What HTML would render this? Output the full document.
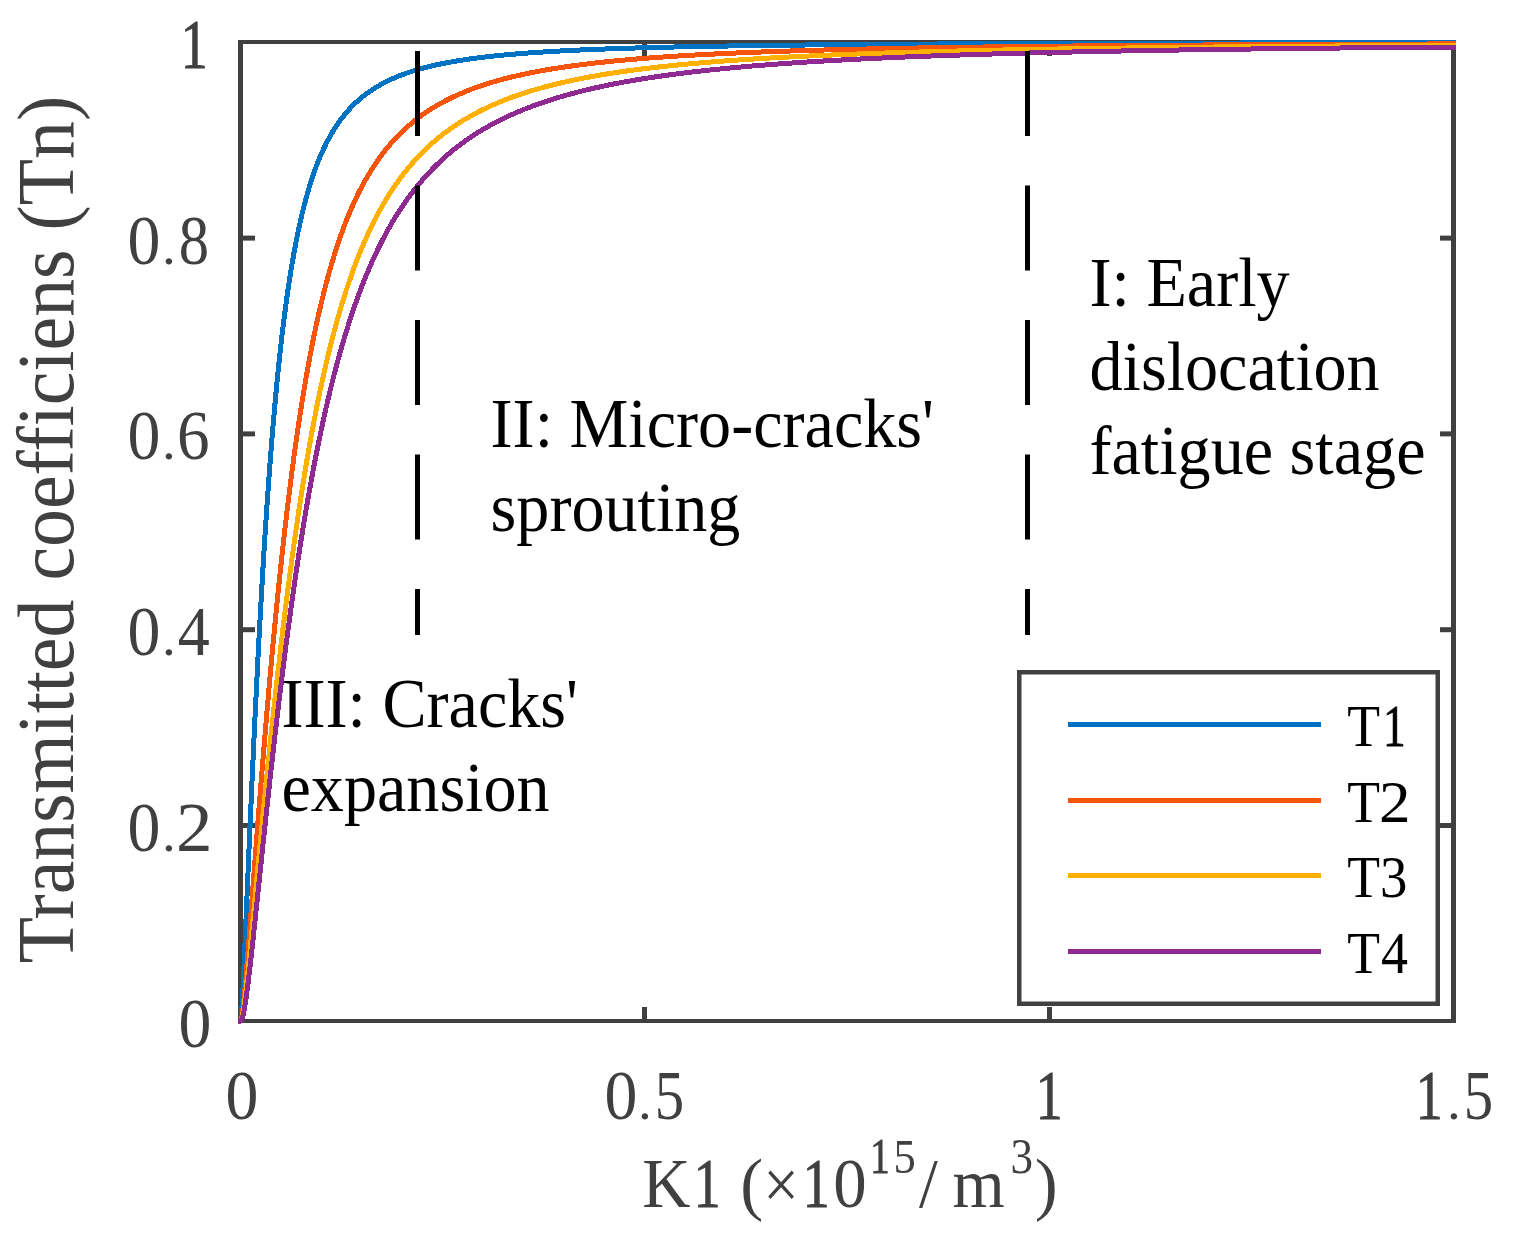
<!DOCTYPE html>
<html><head><meta charset="utf-8"><title>Transmitted coefficients vs K1</title>
<style>html,body{margin:0;padding:0;background:#fff;overflow:hidden;}svg{display:block;}</style></head>
<body>
<svg width="1513" height="1239" viewBox="0 0 1513 1239">
<rect width="1513" height="1239" fill="#fff"/>
<g stroke="#404040" stroke-width="5" fill="none"><line x1="644.5" y1="1023" x2="644.5" y2="1007"/><line x1="644.5" y1="40" x2="644.5" y2="56"/><line x1="1049.5" y1="1023" x2="1049.5" y2="1007"/><line x1="1049.5" y1="40" x2="1049.5" y2="56"/><line x1="238" y1="825.5" x2="255" y2="825.5"/><line x1="1456" y1="825.5" x2="1440" y2="825.5"/><line x1="238" y1="629.7" x2="255" y2="629.7"/><line x1="1456" y1="629.7" x2="1440" y2="629.7"/><line x1="238" y1="433.9" x2="255" y2="433.9"/><line x1="1456" y1="433.9" x2="1440" y2="433.9"/><line x1="238" y1="238.1" x2="255" y2="238.1"/><line x1="1456" y1="238.1" x2="1440" y2="238.1"/></g>
<g fill="#404040"><rect x="238" y="40" width="1218" height="4"/><rect x="238" y="1019" width="1218" height="4"/><rect x="238" y="40" width="5" height="983"/><rect x="1451" y="40" width="5" height="983"/></g>
<polyline points="240.50,1021.00 240.50,1021.00 240.50,1021.00 240.51,1021.00 240.51,1021.00 240.52,1021.00 240.53,1020.99 240.55,1020.98 240.56,1020.96 240.58,1020.94 240.61,1020.90 240.63,1020.85 240.66,1020.79 240.69,1020.70 240.72,1020.58 240.76,1020.44 240.80,1020.27 240.84,1020.05 240.89,1019.79 240.93,1019.48 240.99,1019.12 241.04,1018.70 241.10,1018.22 241.16,1017.66 241.23,1017.03 241.29,1016.32 241.37,1015.53 241.44,1014.64 241.52,1013.67 241.60,1012.59 241.69,1011.41 241.78,1010.13 241.87,1008.73 241.96,1007.23 242.06,1005.60 242.17,1003.86 242.27,1002.01 242.38,1000.03 242.50,997.92 242.61,995.70 242.73,993.35 242.86,990.87 242.99,988.27 243.12,985.55 243.26,982.70 243.40,979.73 243.54,976.63 243.69,973.42 243.84,970.08 243.99,966.63 244.15,963.05 244.31,959.36 244.48,955.56 244.65,951.64 244.82,947.61 245.00,943.47 245.18,939.22 245.37,934.87 245.56,930.41 245.75,925.85 245.95,921.18 246.15,916.42 246.36,911.56 246.57,906.60 246.78,901.55 247.00,896.41 247.22,891.17 247.45,885.85 247.68,880.43 247.92,874.93 248.15,869.35 248.40,863.68 248.64,857.93 248.89,852.10 249.15,846.20 249.41,840.21 249.67,834.15 249.94,828.02 250.21,821.82 250.49,815.55 250.77,809.21 251.05,802.80 251.34,796.33 251.63,789.80 251.93,783.21 252.23,776.56 252.54,769.86 252.85,763.10 253.16,756.29 253.48,749.43 253.80,742.53 254.13,735.59 254.46,728.60 254.80,721.57 255.14,714.51 255.48,707.41 255.83,700.28 256.19,693.13 256.55,685.94 256.91,678.74 257.27,671.51 257.65,664.27 258.02,657.01 258.40,649.74 258.79,642.47 259.18,635.18 259.57,627.89 259.97,620.60 260.37,613.32 260.78,606.03 261.19,598.76 261.60,591.49 262.02,584.24 262.45,577.01 262.88,569.79 263.31,562.60 263.75,555.43 264.19,548.28 264.64,541.17 265.10,534.08 265.55,527.03 266.01,520.02 266.48,513.04 266.95,506.11 267.43,499.21 267.91,492.37 268.39,485.57 268.88,478.82 269.37,472.12 269.87,465.47 270.38,458.88 270.88,452.34 271.40,445.86 271.91,439.44 272.44,433.08 272.96,426.79 273.49,420.55 274.03,414.38 274.57,408.28 275.12,402.25 275.67,396.28 276.22,390.38 276.78,384.55 277.35,378.79 277.91,373.10 278.49,367.48 279.07,361.93 279.65,356.46 280.24,351.05 280.83,345.73 281.43,340.47 282.03,335.29 282.64,330.18 283.25,325.14 283.87,320.18 284.49,315.29 285.12,310.47 285.75,305.73 286.39,301.06 287.03,296.46 287.67,291.94 288.33,287.48 288.98,283.10 289.64,278.79 290.31,274.55 290.98,270.38 291.65,266.28 292.33,262.24 293.02,258.28 293.71,254.38 294.41,250.55 295.11,246.79 295.81,243.09 296.52,239.46 297.24,235.89 297.96,232.38 298.68,228.94 299.41,225.56 300.14,222.24 300.88,218.98 301.63,215.78 302.38,212.64 303.13,209.55 303.89,206.53 304.66,203.56 305.43,200.64 306.20,197.78 306.98,194.97 307.77,192.22 308.56,189.51 309.35,186.86 310.15,184.26 310.95,181.71 311.76,179.20 312.58,176.75 313.40,174.34 314.22,171.98 315.05,169.66 315.89,167.38 316.73,165.16 317.57,162.97 318.42,160.82 319.28,158.72 320.14,156.66 321.01,154.64 321.88,152.65 322.75,150.71 323.63,148.80 324.52,146.93 325.41,145.10 326.31,143.30 327.21,141.54 328.12,139.81 329.03,138.11 329.94,136.45 330.87,134.82 331.79,133.22 332.73,131.65 333.66,130.11 334.61,128.60 335.56,127.13 336.51,125.68 337.47,124.25 338.43,122.86 339.40,121.49 340.37,120.15 341.35,118.83 342.34,117.54 343.33,116.28 344.32,115.04 345.32,113.82 346.33,112.63 347.34,111.45 348.35,110.31 349.37,109.18 350.40,108.07 351.43,106.99 352.47,105.92 353.51,104.88 354.56,103.86 355.61,102.85 356.67,101.87 357.73,100.90 358.80,99.95 359.87,99.02 360.95,98.11 362.04,97.21 363.12,96.33 364.22,95.47 365.32,94.62 366.43,93.79 367.54,92.97 368.65,92.17 369.77,91.38 370.90,90.61 372.03,89.85 373.17,89.11 374.31,88.38 375.46,87.66 376.61,86.96 377.77,86.27 378.94,85.59 380.11,84.93 381.28,84.27 382.46,83.63 383.65,83.00 384.84,82.38 386.04,81.77 387.24,81.17 388.44,80.59 389.66,80.01 390.88,79.45 392.10,78.89 393.33,78.34 394.56,77.81 395.80,77.28 397.05,76.76 398.30,76.25 399.55,75.75 400.82,75.26 402.08,74.78 403.35,74.31 404.63,73.84 405.92,73.38 407.20,72.93 408.50,72.49 409.80,72.05 411.10,71.63 412.41,71.21 413.73,70.79 415.05,70.39 416.38,69.99 417.71,69.60 419.05,69.21 420.39,68.83 421.74,68.46 423.09,68.09 424.45,67.73 425.82,67.38 427.19,67.03 428.57,66.69 429.95,66.35 431.34,66.02 432.73,65.69 434.13,65.37 435.53,65.05 436.94,64.74 438.36,64.44 439.78,64.14 441.20,63.84 442.63,63.55 444.07,63.27 445.51,62.98 446.96,62.71 448.42,62.43 449.88,62.17 451.34,61.90 452.81,61.64 454.29,61.39 455.77,61.13 457.26,60.89 458.75,60.64 460.25,60.40 461.75,60.17 463.26,59.93 464.78,59.70 466.30,59.48 467.83,59.26 469.36,59.04 470.90,58.82 472.44,58.61 473.99,58.40 475.54,58.20 477.10,57.99 478.67,57.80 480.24,57.60 481.82,57.41 483.40,57.22 484.99,57.03 486.58,56.84 488.18,56.66 489.79,56.48 491.40,56.30 493.02,56.13 494.64,55.96 496.27,55.79 497.90,55.62 499.54,55.46 501.19,55.30 502.84,55.14 504.49,54.98 506.16,54.83 507.82,54.68 509.50,54.53 511.18,54.38 512.86,54.23 514.55,54.09 516.25,53.95 517.95,53.81 519.66,53.67 521.37,53.53 523.09,53.40 524.82,53.27 526.55,53.14 528.29,53.01 530.03,52.88 531.78,52.76 533.53,52.64 535.29,52.51 537.05,52.40 538.82,52.28 540.60,52.16 542.38,52.05 544.17,51.93 545.97,51.82 547.77,51.71 549.57,51.60 551.38,51.50 553.20,51.39 555.02,51.29 556.85,51.18 558.69,51.08 560.53,50.98 562.37,50.88 564.22,50.79 566.08,50.69 567.94,50.60 569.81,50.50 571.69,50.41 573.57,50.32 575.46,50.23 577.35,50.14 579.25,50.05 581.15,49.97 583.06,49.88 584.98,49.80 586.90,49.72 588.82,49.63 590.76,49.55 592.70,49.47 594.64,49.40 596.59,49.32 598.55,49.24 600.51,49.17 602.48,49.09 604.45,49.02 606.43,48.94 608.42,48.87 610.41,48.80 612.41,48.73 614.41,48.66 616.42,48.59 618.44,48.53 620.46,48.46 622.48,48.39 624.52,48.33 626.56,48.26 628.60,48.20 630.65,48.14 632.71,48.08 634.77,48.02 636.84,47.96 638.91,47.90 640.99,47.84 643.08,47.78 645.17,47.72 647.27,47.67 649.37,47.61 651.48,47.55 653.60,47.50 655.72,47.45 657.84,47.39 659.98,47.34 662.12,47.29 664.26,47.24 666.41,47.18 668.57,47.13 670.73,47.08 672.90,47.04 675.08,46.99 677.26,46.94 679.44,46.89 681.64,46.85 683.84,46.80 686.04,46.75 688.25,46.71 690.47,46.66 692.69,46.62 694.92,46.58 697.15,46.53 699.39,46.49 701.64,46.45 703.89,46.41 706.15,46.37 708.42,46.32 710.69,46.28 712.96,46.25 715.25,46.21 717.53,46.17 719.83,46.13 722.13,46.09 724.44,46.05 726.75,46.02 729.07,45.98 731.39,45.94 733.72,45.91 736.06,45.87 738.40,45.84 740.75,45.80 743.10,45.77 745.46,45.73 747.83,45.70 750.20,45.67 752.58,45.63 754.97,45.60 757.36,45.57 759.75,45.54 762.16,45.51 764.57,45.48 766.98,45.44 769.40,45.41 771.83,45.38 774.26,45.35 776.70,45.33 779.15,45.30 781.60,45.27 784.06,45.24 786.52,45.21 788.99,45.18 791.47,45.16 793.95,45.13 796.44,45.10 798.93,45.07 801.43,45.05 803.94,45.02 806.45,45.00 808.97,44.97 811.49,44.94 814.02,44.92 816.56,44.90 819.10,44.87 821.65,44.85 824.20,44.82 826.77,44.80 829.33,44.77 831.91,44.75 834.49,44.73 837.07,44.71 839.66,44.68 842.26,44.66 844.87,44.64 847.48,44.62 850.09,44.60 852.71,44.57 855.34,44.55 857.98,44.53 860.62,44.51 863.27,44.49 865.92,44.47 868.58,44.45 871.24,44.43 873.91,44.41 876.59,44.39 879.28,44.37 881.97,44.35 884.66,44.33 887.37,44.31 890.07,44.30 892.79,44.28 895.51,44.26 898.24,44.24 900.97,44.22 903.71,44.21 906.46,44.19 909.21,44.17 911.97,44.15 914.73,44.14 917.50,44.12 920.28,44.10 923.06,44.09 925.85,44.07 928.64,44.05 931.45,44.04 934.25,44.02 937.07,44.01 939.89,43.99 942.71,43.97 945.55,43.96 948.38,43.94 951.23,43.93 954.08,43.91 956.94,43.90 959.80,43.88 962.67,43.87 965.55,43.86 968.43,43.84 971.32,43.83 974.21,43.81 977.11,43.80 980.02,43.79 982.94,43.77 985.86,43.76 988.78,43.75 991.71,43.73 994.65,43.72 997.60,43.71 1000.55,43.69 1003.51,43.68 1006.47,43.67 1009.44,43.66 1012.42,43.64 1015.40,43.63 1018.39,43.62 1021.38,43.61 1024.38,43.60 1027.39,43.58 1030.40,43.57 1033.42,43.56 1036.45,43.55 1039.48,43.54 1042.52,43.53 1045.57,43.52 1048.62,43.50 1051.68,43.49 1054.74,43.48 1057.81,43.47 1060.89,43.46 1063.97,43.45 1067.06,43.44 1070.16,43.43 1073.26,43.42 1076.37,43.41 1079.48,43.40 1082.60,43.39 1085.73,43.38 1088.86,43.37 1092.00,43.36 1095.15,43.35 1098.30,43.34 1101.46,43.33 1104.63,43.32 1107.80,43.31 1110.98,43.30 1114.16,43.29 1117.35,43.28 1120.55,43.28 1123.75,43.27 1126.96,43.26 1130.18,43.25 1133.40,43.24 1136.63,43.23 1139.86,43.22 1143.11,43.21 1146.35,43.21 1149.61,43.20 1152.87,43.19 1156.14,43.18 1159.41,43.17 1162.69,43.17 1165.97,43.16 1169.27,43.15 1172.57,43.14 1175.87,43.13 1179.18,43.13 1182.50,43.12 1185.83,43.11 1189.16,43.10 1192.49,43.10 1195.84,43.09 1199.19,43.08 1202.54,43.07 1205.91,43.07 1209.27,43.06 1212.65,43.05 1216.03,43.05 1219.42,43.04 1222.81,43.03 1226.22,43.02 1229.62,43.02 1233.04,43.01 1236.46,43.00 1239.88,43.00 1243.32,42.99 1246.76,42.98 1250.20,42.98 1253.66,42.97 1257.12,42.97 1260.58,42.96 1264.05,42.95 1267.53,42.95 1271.02,42.94 1274.51,42.93 1278.00,42.93 1281.51,42.92 1285.02,42.92 1288.54,42.91 1292.06,42.90 1295.59,42.90 1299.12,42.89 1302.67,42.89 1306.22,42.88 1309.77,42.88 1313.33,42.87 1316.90,42.86 1320.48,42.86 1324.06,42.85 1327.65,42.85 1331.24,42.84 1334.84,42.84 1338.45,42.83 1342.06,42.83 1345.68,42.82 1349.31,42.82 1352.94,42.81 1356.58,42.81 1360.23,42.80 1363.88,42.80 1367.54,42.79 1371.21,42.79 1374.88,42.78 1378.56,42.78 1382.24,42.77 1385.94,42.77 1389.63,42.76 1393.34,42.76 1397.05,42.75 1400.77,42.75 1404.49,42.74 1408.22,42.74 1411.96,42.73 1415.70,42.73 1419.45,42.72 1423.21,42.72 1426.97,42.72 1430.74,42.71 1434.52,42.71 1438.30,42.70 1442.09,42.70 1445.89,42.69 1449.69,42.69 1453.50,42.69" fill="none" stroke="#0072C4" stroke-width="5" stroke-linejoin="round" stroke-linecap="square" shape-rendering="crispEdges"/>
<polyline points="240.50,1021.00 240.50,1021.00 240.50,1021.00 240.51,1021.00 240.51,1021.00 240.52,1021.00 240.53,1021.00 240.55,1020.99 240.56,1020.99 240.58,1020.98 240.61,1020.97 240.63,1020.96 240.66,1020.94 240.69,1020.91 240.72,1020.87 240.76,1020.83 240.80,1020.77 240.84,1020.71 240.89,1020.63 240.93,1020.53 240.99,1020.41 241.04,1020.28 241.10,1020.12 241.16,1019.94 241.23,1019.73 241.29,1019.49 241.37,1019.22 241.44,1018.92 241.52,1018.58 241.60,1018.20 241.69,1017.78 241.78,1017.32 241.87,1016.82 241.96,1016.27 242.06,1015.67 242.17,1015.01 242.27,1014.30 242.38,1013.54 242.50,1012.72 242.61,1011.84 242.73,1010.90 242.86,1009.89 242.99,1008.82 243.12,1007.69 243.26,1006.49 243.40,1005.22 243.54,1003.88 243.69,1002.47 243.84,1000.99 243.99,999.44 244.15,997.81 244.31,996.11 244.48,994.34 244.65,992.50 244.82,990.58 245.00,988.59 245.18,986.52 245.37,984.38 245.56,982.17 245.75,979.88 245.95,977.52 246.15,975.09 246.36,972.59 246.57,970.01 246.78,967.36 247.00,964.64 247.22,961.86 247.45,959.00 247.68,956.07 247.92,953.08 248.15,950.02 248.40,946.89 248.64,943.69 248.89,940.44 249.15,937.11 249.41,933.73 249.67,930.28 249.94,926.77 250.21,923.19 250.49,919.56 250.77,915.87 251.05,912.12 251.34,908.31 251.63,904.45 251.93,900.52 252.23,896.55 252.54,892.51 252.85,888.43 253.16,884.29 253.48,880.09 253.80,875.85 254.13,871.55 254.46,867.21 254.80,862.81 255.14,858.37 255.48,853.88 255.83,849.34 256.19,844.75 256.55,840.12 256.91,835.44 257.27,830.72 257.65,825.95 258.02,821.14 258.40,816.30 258.79,811.41 259.18,806.48 259.57,801.51 259.97,796.50 260.37,791.46 260.78,786.37 261.19,781.26 261.60,776.11 262.02,770.92 262.45,765.71 262.88,760.46 263.31,755.18 263.75,749.88 264.19,744.54 264.64,739.18 265.10,733.79 265.55,728.38 266.01,722.94 266.48,717.48 266.95,712.00 267.43,706.50 267.91,700.98 268.39,695.44 268.88,689.89 269.37,684.32 269.87,678.74 270.38,673.14 270.88,667.53 271.40,661.92 271.91,656.29 272.44,650.66 272.96,645.02 273.49,639.37 274.03,633.72 274.57,628.07 275.12,622.42 275.67,616.77 276.22,611.12 276.78,605.47 277.35,599.82 277.91,594.19 278.49,588.55 279.07,582.93 279.65,577.32 280.24,571.71 280.83,566.12 281.43,560.54 282.03,554.98 282.64,549.43 283.25,543.89 283.87,538.38 284.49,532.88 285.12,527.40 285.75,521.95 286.39,516.52 287.03,511.11 287.67,505.72 288.33,500.36 288.98,495.03 289.64,489.72 290.31,484.44 290.98,479.19 291.65,473.97 292.33,468.79 293.02,463.63 293.71,458.51 294.41,453.42 295.11,448.36 295.81,443.34 296.52,438.35 297.24,433.41 297.96,428.49 298.68,423.62 299.41,418.78 300.14,413.99 300.88,409.23 301.63,404.51 302.38,399.83 303.13,395.20 303.89,390.60 304.66,386.05 305.43,381.53 306.20,377.06 306.98,372.64 307.77,368.25 308.56,363.91 309.35,359.61 310.15,355.36 310.95,351.15 311.76,346.98 312.58,342.86 313.40,338.78 314.22,334.75 315.05,330.76 315.89,326.81 316.73,322.91 317.57,319.05 318.42,315.24 319.28,311.47 320.14,307.75 321.01,304.07 321.88,300.43 322.75,296.84 323.63,293.29 324.52,289.79 325.41,286.33 326.31,282.91 327.21,279.53 328.12,276.20 329.03,272.91 329.94,269.66 330.87,266.46 331.79,263.29 332.73,260.17 333.66,257.09 334.61,254.05 335.56,251.05 336.51,248.09 337.47,245.18 338.43,242.30 339.40,239.46 340.37,236.66 341.35,233.90 342.34,231.17 343.33,228.49 344.32,225.84 345.32,223.23 346.33,220.66 347.34,218.12 348.35,215.62 349.37,213.15 350.40,210.72 351.43,208.33 352.47,205.97 353.51,203.64 354.56,201.35 355.61,199.09 356.67,196.87 357.73,194.67 358.80,192.51 359.87,190.38 360.95,188.29 362.04,186.22 363.12,184.18 364.22,182.18 365.32,180.20 366.43,178.26 367.54,176.34 368.65,174.45 369.77,172.59 370.90,170.76 372.03,168.95 373.17,167.17 374.31,165.42 375.46,163.70 376.61,162.00 377.77,160.33 378.94,158.68 380.11,157.06 381.28,155.46 382.46,153.88 383.65,152.33 384.84,150.81 386.04,149.30 387.24,147.82 388.44,146.36 389.66,144.93 390.88,143.52 392.10,142.12 393.33,140.75 394.56,139.40 395.80,138.07 397.05,136.76 398.30,135.47 399.55,134.20 400.82,132.95 402.08,131.72 403.35,130.51 404.63,129.31 405.92,128.13 407.20,126.98 408.50,125.83 409.80,124.71 411.10,123.60 412.41,122.51 413.73,121.44 415.05,120.38 416.38,119.34 417.71,118.32 419.05,117.31 420.39,116.31 421.74,115.33 423.09,114.37 424.45,113.42 425.82,112.48 427.19,111.56 428.57,110.65 429.95,109.76 431.34,108.88 432.73,108.01 434.13,107.15 435.53,106.31 436.94,105.48 438.36,104.66 439.78,103.86 441.20,103.06 442.63,102.28 444.07,101.51 445.51,100.76 446.96,100.01 448.42,99.27 449.88,98.55 451.34,97.83 452.81,97.13 454.29,96.43 455.77,95.75 457.26,95.08 458.75,94.41 460.25,93.76 461.75,93.12 463.26,92.48 464.78,91.85 466.30,91.24 467.83,90.63 469.36,90.03 470.90,89.44 472.44,88.86 473.99,88.29 475.54,87.72 477.10,87.16 478.67,86.61 480.24,86.07 481.82,85.54 483.40,85.01 484.99,84.50 486.58,83.98 488.18,83.48 489.79,82.98 491.40,82.50 493.02,82.01 494.64,81.54 496.27,81.07 497.90,80.61 499.54,80.15 501.19,79.70 502.84,79.26 504.49,78.82 506.16,78.39 507.82,77.96 509.50,77.54 511.18,77.13 512.86,76.72 514.55,76.32 516.25,75.92 517.95,75.53 519.66,75.15 521.37,74.77 523.09,74.39 524.82,74.02 526.55,73.66 528.29,73.30 530.03,72.94 531.78,72.59 533.53,72.25 535.29,71.91 537.05,71.57 538.82,71.24 540.60,70.91 542.38,70.59 544.17,70.27 545.97,69.95 547.77,69.64 549.57,69.34 551.38,69.04 553.20,68.74 555.02,68.44 556.85,68.15 558.69,67.87 560.53,67.58 562.37,67.31 564.22,67.03 566.08,66.76 567.94,66.49 569.81,66.23 571.69,65.96 573.57,65.71 575.46,65.45 577.35,65.20 579.25,64.95 581.15,64.71 583.06,64.47 584.98,64.23 586.90,63.99 588.82,63.76 590.76,63.53 592.70,63.30 594.64,63.08 596.59,62.86 598.55,62.64 600.51,62.43 602.48,62.21 604.45,62.00 606.43,61.80 608.42,61.59 610.41,61.39 612.41,61.19 614.41,60.99 616.42,60.80 618.44,60.61 620.46,60.42 622.48,60.23 624.52,60.04 626.56,59.86 628.60,59.68 630.65,59.50 632.71,59.32 634.77,59.15 636.84,58.98 638.91,58.81 640.99,58.64 643.08,58.47 645.17,58.31 647.27,58.15 649.37,57.99 651.48,57.83 653.60,57.67 655.72,57.52 657.84,57.37 659.98,57.22 662.12,57.07 664.26,56.92 666.41,56.78 668.57,56.63 670.73,56.49 672.90,56.35 675.08,56.21 677.26,56.07 679.44,55.94 681.64,55.80 683.84,55.67 686.04,55.54 688.25,55.41 690.47,55.28 692.69,55.16 694.92,55.03 697.15,54.91 699.39,54.79 701.64,54.67 703.89,54.55 706.15,54.43 708.42,54.31 710.69,54.20 712.96,54.09 715.25,53.97 717.53,53.86 719.83,53.75 722.13,53.64 724.44,53.54 726.75,53.43 729.07,53.32 731.39,53.22 733.72,53.12 736.06,53.02 738.40,52.92 740.75,52.82 743.10,52.72 745.46,52.62 747.83,52.52 750.20,52.43 752.58,52.34 754.97,52.24 757.36,52.15 759.75,52.06 762.16,51.97 764.57,51.88 766.98,51.79 769.40,51.71 771.83,51.62 774.26,51.53 776.70,51.45 779.15,51.37 781.60,51.28 784.06,51.20 786.52,51.12 788.99,51.04 791.47,50.96 793.95,50.89 796.44,50.81 798.93,50.73 801.43,50.66 803.94,50.58 806.45,50.51 808.97,50.43 811.49,50.36 814.02,50.29 816.56,50.22 819.10,50.15 821.65,50.08 824.20,50.01 826.77,49.94 829.33,49.87 831.91,49.81 834.49,49.74 837.07,49.68 839.66,49.61 842.26,49.55 844.87,49.48 847.48,49.42 850.09,49.36 852.71,49.30 855.34,49.24 857.98,49.18 860.62,49.12 863.27,49.06 865.92,49.00 868.58,48.94 871.24,48.89 873.91,48.83 876.59,48.77 879.28,48.72 881.97,48.66 884.66,48.61 887.37,48.55 890.07,48.50 892.79,48.45 895.51,48.40 898.24,48.34 900.97,48.29 903.71,48.24 906.46,48.19 909.21,48.14 911.97,48.09 914.73,48.04 917.50,48.00 920.28,47.95 923.06,47.90 925.85,47.85 928.64,47.81 931.45,47.76 934.25,47.72 937.07,47.67 939.89,47.63 942.71,47.58 945.55,47.54 948.38,47.50 951.23,47.45 954.08,47.41 956.94,47.37 959.80,47.33 962.67,47.28 965.55,47.24 968.43,47.20 971.32,47.16 974.21,47.12 977.11,47.08 980.02,47.04 982.94,47.01 985.86,46.97 988.78,46.93 991.71,46.89 994.65,46.85 997.60,46.82 1000.55,46.78 1003.51,46.74 1006.47,46.71 1009.44,46.67 1012.42,46.64 1015.40,46.60 1018.39,46.57 1021.38,46.53 1024.38,46.50 1027.39,46.47 1030.40,46.43 1033.42,46.40 1036.45,46.37 1039.48,46.34 1042.52,46.30 1045.57,46.27 1048.62,46.24 1051.68,46.21 1054.74,46.18 1057.81,46.15 1060.89,46.12 1063.97,46.09 1067.06,46.06 1070.16,46.03 1073.26,46.00 1076.37,45.97 1079.48,45.94 1082.60,45.91 1085.73,45.88 1088.86,45.85 1092.00,45.83 1095.15,45.80 1098.30,45.77 1101.46,45.75 1104.63,45.72 1107.80,45.69 1110.98,45.67 1114.16,45.64 1117.35,45.61 1120.55,45.59 1123.75,45.56 1126.96,45.54 1130.18,45.51 1133.40,45.49 1136.63,45.46 1139.86,45.44 1143.11,45.41 1146.35,45.39 1149.61,45.37 1152.87,45.34 1156.14,45.32 1159.41,45.30 1162.69,45.27 1165.97,45.25 1169.27,45.23 1172.57,45.21 1175.87,45.18 1179.18,45.16 1182.50,45.14 1185.83,45.12 1189.16,45.10 1192.49,45.08 1195.84,45.05 1199.19,45.03 1202.54,45.01 1205.91,44.99 1209.27,44.97 1212.65,44.95 1216.03,44.93 1219.42,44.91 1222.81,44.89 1226.22,44.87 1229.62,44.85 1233.04,44.83 1236.46,44.81 1239.88,44.80 1243.32,44.78 1246.76,44.76 1250.20,44.74 1253.66,44.72 1257.12,44.70 1260.58,44.69 1264.05,44.67 1267.53,44.65 1271.02,44.63 1274.51,44.61 1278.00,44.60 1281.51,44.58 1285.02,44.56 1288.54,44.55 1292.06,44.53 1295.59,44.51 1299.12,44.50 1302.67,44.48 1306.22,44.46 1309.77,44.45 1313.33,44.43 1316.90,44.42 1320.48,44.40 1324.06,44.39 1327.65,44.37 1331.24,44.35 1334.84,44.34 1338.45,44.32 1342.06,44.31 1345.68,44.29 1349.31,44.28 1352.94,44.27 1356.58,44.25 1360.23,44.24 1363.88,44.22 1367.54,44.21 1371.21,44.19 1374.88,44.18 1378.56,44.17 1382.24,44.15 1385.94,44.14 1389.63,44.13 1393.34,44.11 1397.05,44.10 1400.77,44.09 1404.49,44.07 1408.22,44.06 1411.96,44.05 1415.70,44.03 1419.45,44.02 1423.21,44.01 1426.97,44.00 1430.74,43.98 1434.52,43.97 1438.30,43.96 1442.09,43.95 1445.89,43.93 1449.69,43.92 1453.50,43.91" fill="none" stroke="#F8550C" stroke-width="5" stroke-linejoin="round" stroke-linecap="square" shape-rendering="crispEdges"/>
<polyline points="240.50,1021.00 240.50,1021.00 240.50,1021.00 240.51,1021.00 240.51,1021.00 240.52,1021.00 240.53,1021.00 240.55,1021.00 240.56,1020.99 240.58,1020.99 240.61,1020.98 240.63,1020.97 240.66,1020.96 240.69,1020.94 240.72,1020.92 240.76,1020.89 240.80,1020.86 240.84,1020.81 240.89,1020.76 240.93,1020.70 240.99,1020.62 241.04,1020.54 241.10,1020.44 241.16,1020.32 241.23,1020.18 241.29,1020.03 241.37,1019.85 241.44,1019.66 241.52,1019.43 241.60,1019.19 241.69,1018.91 241.78,1018.61 241.87,1018.27 241.96,1017.91 242.06,1017.50 242.17,1017.07 242.27,1016.59 242.38,1016.08 242.50,1015.52 242.61,1014.92 242.73,1014.28 242.86,1013.59 242.99,1012.86 243.12,1012.07 243.26,1011.24 243.40,1010.36 243.54,1009.42 243.69,1008.43 243.84,1007.39 243.99,1006.29 244.15,1005.14 244.31,1003.92 244.48,1002.66 244.65,1001.33 244.82,999.94 245.00,998.50 245.18,996.99 245.37,995.43 245.56,993.80 245.75,992.12 245.95,990.37 246.15,988.56 246.36,986.69 246.57,984.76 246.78,982.77 247.00,980.72 247.22,978.61 247.45,976.44 247.68,974.21 247.92,971.92 248.15,969.57 248.40,967.17 248.64,964.70 248.89,962.18 249.15,959.59 249.41,956.96 249.67,954.26 249.94,951.51 250.21,948.71 250.49,945.85 250.77,942.93 251.05,939.96 251.34,936.94 251.63,933.87 251.93,930.75 252.23,927.57 252.54,924.34 252.85,921.07 253.16,917.74 253.48,914.37 253.80,910.95 254.13,907.48 254.46,903.96 254.80,900.40 255.14,896.79 255.48,893.14 255.83,889.44 256.19,885.70 256.55,881.92 256.91,878.09 257.27,874.22 257.65,870.31 258.02,866.36 258.40,862.37 258.79,858.34 259.18,854.27 259.57,850.16 259.97,846.01 260.37,841.83 260.78,837.61 261.19,833.35 261.60,829.06 262.02,824.73 262.45,820.37 262.88,815.98 263.31,811.55 263.75,807.09 264.19,802.60 264.64,798.08 265.10,793.53 265.55,788.95 266.01,784.34 266.48,779.70 266.95,775.04 267.43,770.35 267.91,765.63 268.39,760.89 268.88,756.13 269.37,751.34 269.87,746.53 270.38,741.70 270.88,736.84 271.40,731.97 271.91,727.08 272.44,722.17 272.96,717.24 273.49,712.30 274.03,707.34 274.57,702.37 275.12,697.38 275.67,692.38 276.22,687.37 276.78,682.35 277.35,677.31 277.91,672.27 278.49,667.22 279.07,662.16 279.65,657.10 280.24,652.03 280.83,646.95 281.43,641.88 282.03,636.80 282.64,631.72 283.25,626.63 283.87,621.55 284.49,616.47 285.12,611.39 285.75,606.32 286.39,601.25 287.03,596.18 287.67,591.12 288.33,586.07 288.98,581.02 289.64,575.99 290.31,570.96 290.98,565.94 291.65,560.94 292.33,555.95 293.02,550.97 293.71,546.00 294.41,541.05 295.11,536.11 295.81,531.19 296.52,526.29 297.24,521.41 297.96,516.54 298.68,511.70 299.41,506.87 300.14,502.07 300.88,497.29 301.63,492.52 302.38,487.79 303.13,483.07 303.89,478.39 304.66,473.72 305.43,469.08 306.20,464.47 306.98,459.89 307.77,455.33 308.56,450.80 309.35,446.30 310.15,441.82 310.95,437.38 311.76,432.97 312.58,428.58 313.40,424.23 314.22,419.91 315.05,415.62 315.89,411.36 316.73,407.13 317.57,402.94 318.42,398.78 319.28,394.65 320.14,390.56 321.01,386.50 321.88,382.47 322.75,378.48 323.63,374.52 324.52,370.60 325.41,366.71 326.31,362.86 327.21,359.04 328.12,355.25 329.03,351.51 329.94,347.79 330.87,344.11 331.79,340.47 332.73,336.87 333.66,333.29 334.61,329.76 335.56,326.26 336.51,322.79 337.47,319.37 338.43,315.97 339.40,312.61 340.37,309.29 341.35,306.00 342.34,302.75 343.33,299.53 344.32,296.35 345.32,293.20 346.33,290.09 347.34,287.01 348.35,283.97 349.37,280.96 350.40,277.99 351.43,275.05 352.47,272.14 353.51,269.27 354.56,266.43 355.61,263.62 356.67,260.85 357.73,258.11 358.80,255.40 359.87,252.72 360.95,250.08 362.04,247.47 363.12,244.89 364.22,242.34 365.32,239.82 366.43,237.33 367.54,234.88 368.65,232.45 369.77,230.06 370.90,227.69 372.03,225.36 373.17,223.05 374.31,220.78 375.46,218.53 376.61,216.31 377.77,214.12 378.94,211.96 380.11,209.82 381.28,207.71 382.46,205.63 383.65,203.58 384.84,201.55 386.04,199.55 387.24,197.58 388.44,195.63 389.66,193.70 390.88,191.81 392.10,189.93 393.33,188.08 394.56,186.26 395.80,184.46 397.05,182.68 398.30,180.93 399.55,179.20 400.82,177.49 402.08,175.81 403.35,174.15 404.63,172.51 405.92,170.89 407.20,169.30 408.50,167.72 409.80,166.17 411.10,164.63 412.41,163.12 413.73,161.63 415.05,160.16 416.38,158.71 417.71,157.27 419.05,155.86 420.39,154.47 421.74,153.09 423.09,151.73 424.45,150.40 425.82,149.08 427.19,147.77 428.57,146.49 429.95,145.22 431.34,143.97 432.73,142.74 434.13,141.52 435.53,140.32 436.94,139.13 438.36,137.96 439.78,136.81 441.20,135.67 442.63,134.55 444.07,133.45 445.51,132.35 446.96,131.28 448.42,130.21 449.88,129.17 451.34,128.13 452.81,127.11 454.29,126.10 455.77,125.11 457.26,124.13 458.75,123.16 460.25,122.21 461.75,121.27 463.26,120.34 464.78,119.43 466.30,118.52 467.83,117.63 469.36,116.75 470.90,115.88 472.44,115.03 473.99,114.18 475.54,113.35 477.10,112.53 478.67,111.71 480.24,110.91 481.82,110.12 483.40,109.34 484.99,108.57 486.58,107.82 488.18,107.07 489.79,106.33 491.40,105.60 493.02,104.88 494.64,104.17 496.27,103.47 497.90,102.77 499.54,102.09 501.19,101.42 502.84,100.75 504.49,100.10 506.16,99.45 507.82,98.81 509.50,98.18 511.18,97.55 512.86,96.94 514.55,96.33 516.25,95.73 517.95,95.14 519.66,94.56 521.37,93.98 523.09,93.41 524.82,92.85 526.55,92.30 528.29,91.75 530.03,91.21 531.78,90.68 533.53,90.15 535.29,89.63 537.05,89.12 538.82,88.61 540.60,88.11 542.38,87.62 544.17,87.13 545.97,86.65 547.77,86.18 549.57,85.71 551.38,85.24 553.20,84.79 555.02,84.33 556.85,83.89 558.69,83.45 560.53,83.01 562.37,82.58 564.22,82.16 566.08,81.74 567.94,81.33 569.81,80.92 571.69,80.51 573.57,80.12 575.46,79.72 577.35,79.33 579.25,78.95 581.15,78.57 583.06,78.20 584.98,77.83 586.90,77.46 588.82,77.10 590.76,76.74 592.70,76.39 594.64,76.04 596.59,75.70 598.55,75.36 600.51,75.02 602.48,74.69 604.45,74.36 606.43,74.04 608.42,73.72 610.41,73.40 612.41,73.09 614.41,72.78 616.42,72.48 618.44,72.18 620.46,71.88 622.48,71.59 624.52,71.29 626.56,71.01 628.60,70.72 630.65,70.44 632.71,70.17 634.77,69.89 636.84,69.62 638.91,69.35 640.99,69.09 643.08,68.83 645.17,68.57 647.27,68.31 649.37,68.06 651.48,67.81 653.60,67.57 655.72,67.32 657.84,67.08 659.98,66.84 662.12,66.61 664.26,66.38 666.41,66.15 668.57,65.92 670.73,65.69 672.90,65.47 675.08,65.25 677.26,65.03 679.44,64.82 681.64,64.61 683.84,64.40 686.04,64.19 688.25,63.98 690.47,63.78 692.69,63.58 694.92,63.38 697.15,63.18 699.39,62.99 701.64,62.80 703.89,62.61 706.15,62.42 708.42,62.24 710.69,62.05 712.96,61.87 715.25,61.69 717.53,61.51 719.83,61.34 722.13,61.16 724.44,60.99 726.75,60.82 729.07,60.65 731.39,60.49 733.72,60.32 736.06,60.16 738.40,60.00 740.75,59.84 743.10,59.68 745.46,59.53 747.83,59.37 750.20,59.22 752.58,59.07 754.97,58.92 757.36,58.77 759.75,58.63 762.16,58.48 764.57,58.34 766.98,58.20 769.40,58.06 771.83,57.92 774.26,57.78 776.70,57.64 779.15,57.51 781.60,57.38 784.06,57.25 786.52,57.12 788.99,56.99 791.47,56.86 793.95,56.73 796.44,56.61 798.93,56.48 801.43,56.36 803.94,56.24 806.45,56.12 808.97,56.00 811.49,55.89 814.02,55.77 816.56,55.65 819.10,55.54 821.65,55.43 824.20,55.32 826.77,55.21 829.33,55.10 831.91,54.99 834.49,54.88 837.07,54.78 839.66,54.67 842.26,54.57 844.87,54.46 847.48,54.36 850.09,54.26 852.71,54.16 855.34,54.06 857.98,53.97 860.62,53.87 863.27,53.77 865.92,53.68 868.58,53.58 871.24,53.49 873.91,53.40 876.59,53.31 879.28,53.22 881.97,53.13 884.66,53.04 887.37,52.95 890.07,52.86 892.79,52.78 895.51,52.69 898.24,52.61 900.97,52.53 903.71,52.44 906.46,52.36 909.21,52.28 911.97,52.20 914.73,52.12 917.50,52.04 920.28,51.96 923.06,51.89 925.85,51.81 928.64,51.73 931.45,51.66 934.25,51.58 937.07,51.51 939.89,51.44 942.71,51.36 945.55,51.29 948.38,51.22 951.23,51.15 954.08,51.08 956.94,51.01 959.80,50.94 962.67,50.88 965.55,50.81 968.43,50.74 971.32,50.68 974.21,50.61 977.11,50.55 980.02,50.48 982.94,50.42 985.86,50.36 988.78,50.29 991.71,50.23 994.65,50.17 997.60,50.11 1000.55,50.05 1003.51,49.99 1006.47,49.93 1009.44,49.87 1012.42,49.81 1015.40,49.76 1018.39,49.70 1021.38,49.64 1024.38,49.59 1027.39,49.53 1030.40,49.48 1033.42,49.42 1036.45,49.37 1039.48,49.32 1042.52,49.26 1045.57,49.21 1048.62,49.16 1051.68,49.11 1054.74,49.06 1057.81,49.00 1060.89,48.95 1063.97,48.90 1067.06,48.86 1070.16,48.81 1073.26,48.76 1076.37,48.71 1079.48,48.66 1082.60,48.61 1085.73,48.57 1088.86,48.52 1092.00,48.48 1095.15,48.43 1098.30,48.38 1101.46,48.34 1104.63,48.30 1107.80,48.25 1110.98,48.21 1114.16,48.16 1117.35,48.12 1120.55,48.08 1123.75,48.04 1126.96,47.99 1130.18,47.95 1133.40,47.91 1136.63,47.87 1139.86,47.83 1143.11,47.79 1146.35,47.75 1149.61,47.71 1152.87,47.67 1156.14,47.63 1159.41,47.60 1162.69,47.56 1165.97,47.52 1169.27,47.48 1172.57,47.44 1175.87,47.41 1179.18,47.37 1182.50,47.34 1185.83,47.30 1189.16,47.26 1192.49,47.23 1195.84,47.19 1199.19,47.16 1202.54,47.12 1205.91,47.09 1209.27,47.06 1212.65,47.02 1216.03,46.99 1219.42,46.96 1222.81,46.92 1226.22,46.89 1229.62,46.86 1233.04,46.83 1236.46,46.79 1239.88,46.76 1243.32,46.73 1246.76,46.70 1250.20,46.67 1253.66,46.64 1257.12,46.61 1260.58,46.58 1264.05,46.55 1267.53,46.52 1271.02,46.49 1274.51,46.46 1278.00,46.43 1281.51,46.40 1285.02,46.38 1288.54,46.35 1292.06,46.32 1295.59,46.29 1299.12,46.26 1302.67,46.24 1306.22,46.21 1309.77,46.18 1313.33,46.16 1316.90,46.13 1320.48,46.10 1324.06,46.08 1327.65,46.05 1331.24,46.03 1334.84,46.00 1338.45,45.98 1342.06,45.95 1345.68,45.93 1349.31,45.90 1352.94,45.88 1356.58,45.85 1360.23,45.83 1363.88,45.80 1367.54,45.78 1371.21,45.76 1374.88,45.73 1378.56,45.71 1382.24,45.69 1385.94,45.66 1389.63,45.64 1393.34,45.62 1397.05,45.60 1400.77,45.57 1404.49,45.55 1408.22,45.53 1411.96,45.51 1415.70,45.49 1419.45,45.47 1423.21,45.45 1426.97,45.42 1430.74,45.40 1434.52,45.38 1438.30,45.36 1442.09,45.34 1445.89,45.32 1449.69,45.30 1453.50,45.28" fill="none" stroke="#FFB000" stroke-width="5" stroke-linejoin="round" stroke-linecap="square" shape-rendering="crispEdges"/>
<polyline points="240.50,1021.00 240.50,1021.00 240.50,1021.00 240.51,1021.00 240.51,1021.00 240.52,1021.00 240.53,1021.00 240.55,1021.00 240.56,1021.00 240.58,1020.99 240.61,1020.99 240.63,1020.98 240.66,1020.97 240.69,1020.96 240.72,1020.95 240.76,1020.93 240.80,1020.91 240.84,1020.88 240.89,1020.85 240.93,1020.81 240.99,1020.76 241.04,1020.71 241.10,1020.64 241.16,1020.56 241.23,1020.48 241.29,1020.38 241.37,1020.26 241.44,1020.13 241.52,1019.99 241.60,1019.83 241.69,1019.65 241.78,1019.44 241.87,1019.22 241.96,1018.98 242.06,1018.71 242.17,1018.41 242.27,1018.09 242.38,1017.74 242.50,1017.36 242.61,1016.95 242.73,1016.51 242.86,1016.03 242.99,1015.52 243.12,1014.97 243.26,1014.39 243.40,1013.76 243.54,1013.10 243.69,1012.39 243.84,1011.64 243.99,1010.85 244.15,1010.01 244.31,1009.12 244.48,1008.19 244.65,1007.21 244.82,1006.18 245.00,1005.10 245.18,1003.97 245.37,1002.78 245.56,1001.55 245.75,1000.26 245.95,998.91 246.15,997.52 246.36,996.06 246.57,994.55 246.78,992.99 247.00,991.37 247.22,989.69 247.45,987.95 247.68,986.16 247.92,984.31 248.15,982.40 248.40,980.43 248.64,978.41 248.89,976.33 249.15,974.19 249.41,971.99 249.67,969.73 249.94,967.42 250.21,965.05 250.49,962.62 250.77,960.14 251.05,957.59 251.34,955.00 251.63,952.35 251.93,949.64 252.23,946.88 252.54,944.06 252.85,941.19 253.16,938.26 253.48,935.29 253.80,932.26 254.13,929.18 254.46,926.05 254.80,922.87 255.14,919.64 255.48,916.35 255.83,913.03 256.19,909.65 256.55,906.22 256.91,902.75 257.27,899.24 257.65,895.68 258.02,892.07 258.40,888.42 258.79,884.73 259.18,880.99 259.57,877.22 259.97,873.40 260.37,869.54 260.78,865.65 261.19,861.71 261.60,857.74 262.02,853.73 262.45,849.68 262.88,845.60 263.31,841.48 263.75,837.33 264.19,833.15 264.64,828.93 265.10,824.68 265.55,820.40 266.01,816.09 266.48,811.75 266.95,807.38 267.43,802.98 267.91,798.55 268.39,794.10 268.88,789.62 269.37,785.12 269.87,780.59 270.38,776.04 270.88,771.47 271.40,766.88 271.91,762.26 272.44,757.62 272.96,752.97 273.49,748.29 274.03,743.60 274.57,738.89 275.12,734.17 275.67,729.43 276.22,724.67 276.78,719.90 277.35,715.12 277.91,710.33 278.49,705.52 279.07,700.71 279.65,695.89 280.24,691.05 280.83,686.21 281.43,681.36 282.03,676.51 282.64,671.65 283.25,666.79 283.87,661.92 284.49,657.05 285.12,652.18 285.75,647.31 286.39,642.43 287.03,637.56 287.67,632.69 288.33,627.82 288.98,622.96 289.64,618.10 290.31,613.24 290.98,608.39 291.65,603.54 292.33,598.71 293.02,593.88 293.71,589.05 294.41,584.24 295.11,579.44 295.81,574.65 296.52,569.87 297.24,565.10 297.96,560.35 298.68,555.61 299.41,550.89 300.14,546.18 300.88,541.48 301.63,536.81 302.38,532.14 303.13,527.50 303.89,522.88 304.66,518.27 305.43,513.69 306.20,509.12 306.98,504.58 307.77,500.06 308.56,495.56 309.35,491.08 310.15,486.62 310.95,482.19 311.76,477.78 312.58,473.40 313.40,469.04 314.22,464.71 315.05,460.40 315.89,456.12 316.73,451.87 317.57,447.64 318.42,443.44 319.28,439.27 320.14,435.12 321.01,431.01 321.88,426.92 322.75,422.86 323.63,418.83 324.52,414.83 325.41,410.86 326.31,406.92 327.21,403.01 328.12,399.13 329.03,395.28 329.94,391.46 330.87,387.67 331.79,383.92 332.73,380.19 333.66,376.50 334.61,372.83 335.56,369.20 336.51,365.60 337.47,362.03 338.43,358.50 339.40,354.99 340.37,351.52 341.35,348.08 342.34,344.67 343.33,341.29 344.32,337.94 345.32,334.63 346.33,331.34 347.34,328.09 348.35,324.87 349.37,321.68 350.40,318.53 351.43,315.40 352.47,312.31 353.51,309.25 354.56,306.21 355.61,303.21 356.67,300.24 357.73,297.31 358.80,294.40 359.87,291.52 360.95,288.67 362.04,285.86 363.12,283.07 364.22,280.31 365.32,277.59 366.43,274.89 367.54,272.22 368.65,269.58 369.77,266.97 370.90,264.39 372.03,261.84 373.17,259.32 374.31,256.82 375.46,254.35 376.61,251.91 377.77,249.50 378.94,247.12 380.11,244.76 381.28,242.43 382.46,240.13 383.65,237.85 384.84,235.60 386.04,233.38 387.24,231.18 388.44,229.01 389.66,226.86 390.88,224.74 392.10,222.64 393.33,220.57 394.56,218.53 395.80,216.50 397.05,214.50 398.30,212.53 399.55,210.58 400.82,208.65 402.08,206.75 403.35,204.86 404.63,203.00 405.92,201.17 407.20,199.35 408.50,197.56 409.80,195.79 411.10,194.04 412.41,192.31 413.73,190.60 415.05,188.92 416.38,187.25 417.71,185.61 419.05,183.98 420.39,182.38 421.74,180.79 423.09,179.23 424.45,177.68 425.82,176.15 427.19,174.64 428.57,173.15 429.95,171.68 431.34,170.23 432.73,168.79 434.13,167.37 435.53,165.97 436.94,164.59 438.36,163.22 439.78,161.87 441.20,160.54 442.63,159.22 444.07,157.92 445.51,156.64 446.96,155.37 448.42,154.12 449.88,152.88 451.34,151.66 452.81,150.45 454.29,149.26 455.77,148.09 457.26,146.92 458.75,145.78 460.25,144.64 461.75,143.52 463.26,142.42 464.78,141.32 466.30,140.25 467.83,139.18 469.36,138.13 470.90,137.09 472.44,136.06 473.99,135.05 475.54,134.05 477.10,133.06 478.67,132.08 480.24,131.12 481.82,130.17 483.40,129.22 484.99,128.29 486.58,127.38 488.18,126.47 489.79,125.57 491.40,124.69 493.02,123.82 494.64,122.95 496.27,122.10 497.90,121.26 499.54,120.43 501.19,119.60 502.84,118.79 504.49,117.99 506.16,117.20 507.82,116.41 509.50,115.64 511.18,114.88 512.86,114.12 514.55,113.38 516.25,112.64 517.95,111.91 519.66,111.20 521.37,110.49 523.09,109.78 524.82,109.09 526.55,108.41 528.29,107.73 530.03,107.06 531.78,106.40 533.53,105.75 535.29,105.10 537.05,104.47 538.82,103.84 540.60,103.22 542.38,102.60 544.17,101.99 545.97,101.39 547.77,100.80 549.57,100.21 551.38,99.63 553.20,99.06 555.02,98.50 556.85,97.94 558.69,97.39 560.53,96.84 562.37,96.30 564.22,95.77 566.08,95.24 567.94,94.72 569.81,94.20 571.69,93.70 573.57,93.19 575.46,92.70 577.35,92.21 579.25,91.72 581.15,91.24 583.06,90.77 584.98,90.30 586.90,89.83 588.82,89.37 590.76,88.92 592.70,88.47 594.64,88.03 596.59,87.59 598.55,87.16 600.51,86.73 602.48,86.31 604.45,85.89 606.43,85.48 608.42,85.07 610.41,84.67 612.41,84.27 614.41,83.87 616.42,83.48 618.44,83.09 620.46,82.71 622.48,82.33 624.52,81.96 626.56,81.59 628.60,81.23 630.65,80.87 632.71,80.51 634.77,80.16 636.84,79.81 638.91,79.46 640.99,79.12 643.08,78.78 645.17,78.45 647.27,78.12 649.37,77.79 651.48,77.47 653.60,77.15 655.72,76.83 657.84,76.52 659.98,76.21 662.12,75.90 664.26,75.60 666.41,75.30 668.57,75.01 670.73,74.71 672.90,74.42 675.08,74.14 677.26,73.85 679.44,73.57 681.64,73.29 683.84,73.02 686.04,72.75 688.25,72.48 690.47,72.21 692.69,71.95 694.92,71.69 697.15,71.43 699.39,71.18 701.64,70.93 703.89,70.68 706.15,70.43 708.42,70.18 710.69,69.94 712.96,69.70 715.25,69.47 717.53,69.23 719.83,69.00 722.13,68.77 724.44,68.54 726.75,68.32 729.07,68.10 731.39,67.88 733.72,67.66 736.06,67.44 738.40,67.23 740.75,67.02 743.10,66.81 745.46,66.60 747.83,66.40 750.20,66.20 752.58,65.99 754.97,65.80 757.36,65.60 759.75,65.40 762.16,65.21 764.57,65.02 766.98,64.83 769.40,64.65 771.83,64.46 774.26,64.28 776.70,64.10 779.15,63.92 781.60,63.74 784.06,63.56 786.52,63.39 788.99,63.22 791.47,63.04 793.95,62.88 796.44,62.71 798.93,62.54 801.43,62.38 803.94,62.22 806.45,62.05 808.97,61.89 811.49,61.74 814.02,61.58 816.56,61.43 819.10,61.27 821.65,61.12 824.20,60.97 826.77,60.82 829.33,60.67 831.91,60.53 834.49,60.38 837.07,60.24 839.66,60.10 842.26,59.96 844.87,59.82 847.48,59.68 850.09,59.54 852.71,59.41 855.34,59.27 857.98,59.14 860.62,59.01 863.27,58.88 865.92,58.75 868.58,58.62 871.24,58.50 873.91,58.37 876.59,58.25 879.28,58.12 881.97,58.00 884.66,57.88 887.37,57.76 890.07,57.64 892.79,57.53 895.51,57.41 898.24,57.29 900.97,57.18 903.71,57.07 906.46,56.95 909.21,56.84 911.97,56.73 914.73,56.62 917.50,56.52 920.28,56.41 923.06,56.30 925.85,56.20 928.64,56.09 931.45,55.99 934.25,55.89 937.07,55.79 939.89,55.68 942.71,55.59 945.55,55.49 948.38,55.39 951.23,55.29 954.08,55.20 956.94,55.10 959.80,55.01 962.67,54.91 965.55,54.82 968.43,54.73 971.32,54.64 974.21,54.55 977.11,54.46 980.02,54.37 982.94,54.28 985.86,54.19 988.78,54.11 991.71,54.02 994.65,53.94 997.60,53.85 1000.55,53.77 1003.51,53.69 1006.47,53.60 1009.44,53.52 1012.42,53.44 1015.40,53.36 1018.39,53.28 1021.38,53.20 1024.38,53.13 1027.39,53.05 1030.40,52.97 1033.42,52.90 1036.45,52.82 1039.48,52.75 1042.52,52.67 1045.57,52.60 1048.62,52.53 1051.68,52.46 1054.74,52.38 1057.81,52.31 1060.89,52.24 1063.97,52.17 1067.06,52.10 1070.16,52.04 1073.26,51.97 1076.37,51.90 1079.48,51.83 1082.60,51.77 1085.73,51.70 1088.86,51.64 1092.00,51.57 1095.15,51.51 1098.30,51.44 1101.46,51.38 1104.63,51.32 1107.80,51.26 1110.98,51.20 1114.16,51.13 1117.35,51.07 1120.55,51.01 1123.75,50.95 1126.96,50.90 1130.18,50.84 1133.40,50.78 1136.63,50.72 1139.86,50.66 1143.11,50.61 1146.35,50.55 1149.61,50.50 1152.87,50.44 1156.14,50.39 1159.41,50.33 1162.69,50.28 1165.97,50.22 1169.27,50.17 1172.57,50.12 1175.87,50.07 1179.18,50.01 1182.50,49.96 1185.83,49.91 1189.16,49.86 1192.49,49.81 1195.84,49.76 1199.19,49.71 1202.54,49.66 1205.91,49.61 1209.27,49.57 1212.65,49.52 1216.03,49.47 1219.42,49.42 1222.81,49.38 1226.22,49.33 1229.62,49.28 1233.04,49.24 1236.46,49.19 1239.88,49.15 1243.32,49.10 1246.76,49.06 1250.20,49.02 1253.66,48.97 1257.12,48.93 1260.58,48.89 1264.05,48.84 1267.53,48.80 1271.02,48.76 1274.51,48.72 1278.00,48.68 1281.51,48.64 1285.02,48.59 1288.54,48.55 1292.06,48.51 1295.59,48.47 1299.12,48.44 1302.67,48.40 1306.22,48.36 1309.77,48.32 1313.33,48.28 1316.90,48.24 1320.48,48.20 1324.06,48.17 1327.65,48.13 1331.24,48.09 1334.84,48.06 1338.45,48.02 1342.06,47.98 1345.68,47.95 1349.31,47.91 1352.94,47.88 1356.58,47.84 1360.23,47.81 1363.88,47.77 1367.54,47.74 1371.21,47.71 1374.88,47.67 1378.56,47.64 1382.24,47.61 1385.94,47.57 1389.63,47.54 1393.34,47.51 1397.05,47.47 1400.77,47.44 1404.49,47.41 1408.22,47.38 1411.96,47.35 1415.70,47.32 1419.45,47.29 1423.21,47.26 1426.97,47.22 1430.74,47.19 1434.52,47.16 1438.30,47.13 1442.09,47.11 1445.89,47.08 1449.69,47.05 1453.50,47.02" fill="none" stroke="#8E2A92" stroke-width="5" stroke-linejoin="round" stroke-linecap="square" shape-rendering="crispEdges"/>
<line x1="417.5" y1="51" x2="417.5" y2="635" stroke="#000" stroke-width="5" stroke-dasharray="85 49.5"/>
<line x1="1027.5" y1="51" x2="1027.5" y2="635" stroke="#000" stroke-width="5" stroke-dasharray="85 49.5"/>
<g font-family="Liberation Serif, 'Times New Roman', Times, serif"><text transform="translate(144.00,851.00) scale(0.955,1)" text-anchor="middle" font-size="68.9" fill="#404040">0</text><text transform="translate(169.00,851.00) scale(0.8,0.78)" text-anchor="middle" font-size="68.9" fill="#404040">.</text><text transform="translate(194.21,851.00) scale(1.06,1)" text-anchor="middle" font-size="68.9" fill="#404040">2</text><text transform="translate(144.00,655.20) scale(0.955,1)" text-anchor="middle" font-size="68.9" fill="#404040">0</text><text transform="translate(169.00,655.20) scale(0.8,0.78)" text-anchor="middle" font-size="68.9" fill="#404040">.</text><text transform="translate(193.67,655.20) scale(0.93,1)" text-anchor="middle" font-size="68.9" fill="#404040">4</text><text transform="translate(144.00,459.40) scale(0.955,1)" text-anchor="middle" font-size="68.9" fill="#404040">0</text><text transform="translate(169.00,459.40) scale(0.8,0.78)" text-anchor="middle" font-size="68.9" fill="#404040">.</text><text transform="translate(193.37,459.40) scale(0.946,1)" text-anchor="middle" font-size="68.9" fill="#404040">6</text><text transform="translate(144.00,263.60) scale(0.955,1)" text-anchor="middle" font-size="68.9" fill="#404040">0</text><text transform="translate(169.00,263.60) scale(0.8,0.78)" text-anchor="middle" font-size="68.9" fill="#404040">.</text><text transform="translate(193.80,263.60) scale(0.88,1)" text-anchor="middle" font-size="68.9" fill="#404040">8</text><text transform="translate(194.25,67.90) scale(0.78,1)" text-anchor="middle" font-size="68.9" fill="#404040" stroke="#404040" stroke-width="0.9">1</text><text transform="translate(195.00,1046.90) scale(0.955,1)" text-anchor="middle" font-size="68.9" fill="#404040">0</text><text transform="translate(241.90,1119.00) scale(0.955,1)" text-anchor="middle" font-size="68.9" fill="#404040">0</text><text transform="translate(620.90,1119.00) scale(0.955,1)" text-anchor="middle" font-size="68.9" fill="#404040">0</text><text transform="translate(644.90,1119.00) scale(0.8,0.78)" text-anchor="middle" font-size="68.9" fill="#404040">.</text><text transform="translate(669.34,1119.00) scale(0.853,1)" text-anchor="middle" font-size="68.9" fill="#404040">5</text><text transform="translate(1049.25,1119.00) scale(0.78,1)" text-anchor="middle" font-size="68.9" fill="#404040" stroke="#404040" stroke-width="0.9">1</text><text transform="translate(1429.25,1119.00) scale(0.78,1)" text-anchor="middle" font-size="68.9" fill="#404040" stroke="#404040" stroke-width="0.9">1</text><text transform="translate(1454.00,1119.00) scale(0.8,0.78)" text-anchor="middle" font-size="68.9" fill="#404040">.</text><text transform="translate(1478.34,1119.00) scale(0.853,1)" text-anchor="middle" font-size="68.9" fill="#404040">5</text><text transform="translate(666.38,1207.00) scale(0.968,1)" text-anchor="middle" font-size="68.9" fill="#404040">K</text><text transform="translate(707.25,1207.00) scale(0.78,1)" text-anchor="middle" font-size="68.9" fill="#404040" stroke="#404040" stroke-width="0.9">1</text><text transform="translate(751.70,1207.00) scale(1.0,1)" text-anchor="middle" font-size="68.9" fill="#404040">(</text><text transform="translate(780.97,1208.00) scale(0.916,1)" text-anchor="middle" font-size="68.9" fill="#404040">×</text><text transform="translate(816.15,1207.00) scale(0.78,1)" text-anchor="middle" font-size="68.9" fill="#404040" stroke="#404040" stroke-width="0.9">1</text><text transform="translate(850.00,1207.00) scale(0.97,1)" text-anchor="middle" font-size="68.9" fill="#404040">0</text><text transform="translate(879.96,1172.60) scale(0.78,1)" text-anchor="middle" font-size="49.6" fill="#404040" stroke="#404040" stroke-width="0.9">1</text><text transform="translate(904.67,1172.60) scale(0.9,1)" text-anchor="middle" font-size="49.6" fill="#404040">5</text><text transform="translate(928.30,1207.00) scale(0.98,1)" text-anchor="middle" font-size="68.9" fill="#404040">/</text><text transform="translate(978.72,1207.00) scale(0.975,1)" text-anchor="middle" font-size="68.9" fill="#404040">m</text><text transform="translate(1021.80,1172.60) scale(0.91,1)" text-anchor="middle" font-size="49.6" fill="#404040">3</text><text transform="translate(1046.20,1207.00) scale(1.0,1)" text-anchor="middle" font-size="68.9" fill="#404040">)</text><text transform="translate(73.20,529.50) rotate(-90) scale(0.955,1)" text-anchor="middle" font-size="79.4" fill="#404040">Transmitted coefficiens (Tn)</text></g>
<g font-family="Liberation Serif, 'Times New Roman', Times, serif"><text transform="translate(490.60,447.00) scale(0.96,1)" text-anchor="start" font-size="68.9" fill="#000">II: Micro-cracks'</text><text transform="translate(490.60,531.00) scale(0.96,1)" text-anchor="start" font-size="68.9" fill="#000">sprouting</text><text transform="translate(1089.50,306.00) scale(0.96,1)" text-anchor="start" font-size="68.9" fill="#000">I: Early</text><text transform="translate(1089.50,390.00) scale(0.96,1)" text-anchor="start" font-size="68.9" fill="#000">dislocation</text><text transform="translate(1089.50,474.00) scale(0.96,1)" text-anchor="start" font-size="68.9" fill="#000">fatigue stage</text><text transform="translate(281.50,727.00) scale(0.96,1)" text-anchor="start" font-size="68.9" fill="#000">III: Cracks'</text><text transform="translate(281.50,811.00) scale(0.96,1)" text-anchor="start" font-size="68.9" fill="#000">expansion</text></g>
<g font-family="Liberation Serif, 'Times New Roman', Times, serif"><rect x="1019.25" y="672.25" width="418.5" height="331.5" fill="#fff" stroke="#404040" stroke-width="4.5"/><line x1="1068" y1="724.5" x2="1321" y2="724.5" stroke="#0072C4" stroke-width="5"/><line x1="1068" y1="800.5" x2="1321" y2="800.5" stroke="#F8550C" stroke-width="5"/><line x1="1068" y1="875.6" x2="1321" y2="875.6" stroke="#FFB000" stroke-width="5"/><line x1="1068" y1="951.6" x2="1321" y2="951.6" stroke="#8E2A92" stroke-width="5"/><text transform="translate(1363.56,746.00) scale(0.9,1)" text-anchor="middle" font-size="59.6" fill="#000">T</text><text transform="translate(1394.37,746.00) scale(0.76,1)" text-anchor="middle" font-size="59.6" fill="#000" stroke="#000" stroke-width="0.8">1</text><text transform="translate(1363.56,822.00) scale(0.9,1)" text-anchor="middle" font-size="59.6" fill="#000">T</text><text transform="translate(1394.75,822.00) scale(1.06,1)" text-anchor="middle" font-size="59.6" fill="#000">2</text><text transform="translate(1363.56,897.00) scale(0.9,1)" text-anchor="middle" font-size="59.6" fill="#000">T</text><text transform="translate(1393.76,897.00) scale(0.92,1)" text-anchor="middle" font-size="59.6" fill="#000">3</text><text transform="translate(1363.56,972.80) scale(0.9,1)" text-anchor="middle" font-size="59.6" fill="#000">T</text><text transform="translate(1394.49,972.80) scale(0.906,1)" text-anchor="middle" font-size="59.6" fill="#000">4</text></g>
</svg>
</body></html>
